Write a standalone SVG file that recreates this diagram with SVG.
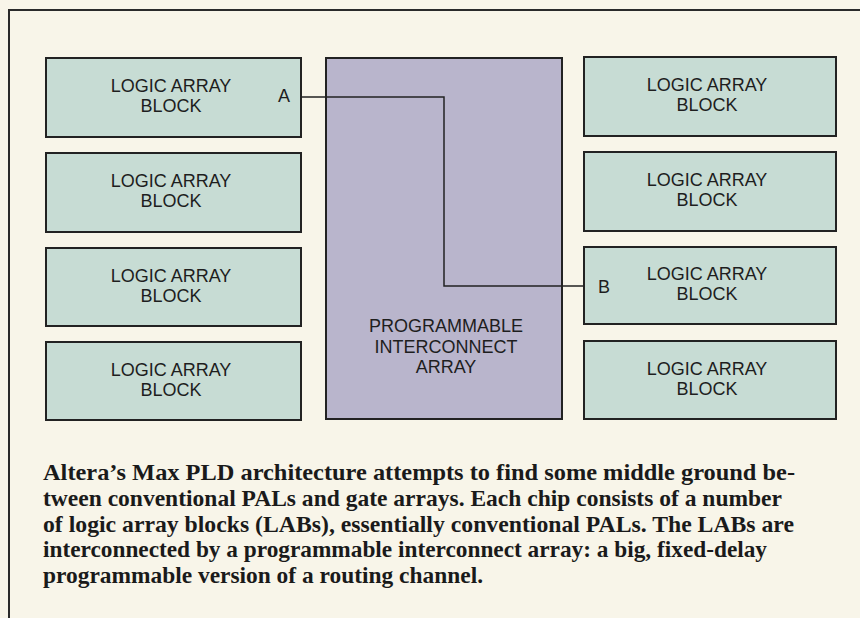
<svg xmlns="http://www.w3.org/2000/svg" width="860" height="618" viewBox="0 0 860 618">
  <style>
    .bg { fill: #f8f5e9; }
    .frame { fill: none; stroke: #2a2a2a; stroke-width: 2; }
    .lab { fill: #c7dcd4; stroke: #222; stroke-width: 2; }
    .pia { fill: #b9b5cc; stroke: #222; stroke-width: 2; }
    .lbl { font-family: "Liberation Sans", Arial, sans-serif; font-size: 18px; fill: #1e1e1e; text-anchor: middle; }
    .pin { font-family: "Liberation Sans", Arial, sans-serif; font-size: 18px; fill: #1e1e1e; }
    .wire { fill: none; stroke: #222; stroke-width: 1.5; }
    .cap { font-family: "Liberation Serif", "Times New Roman", serif; font-weight: bold; font-size: 24px; fill: #1a1a1a; }
  </style>
  <rect class="bg" x="0" y="0" width="860" height="618"/>
  <path class="frame" d="M9,618 V10 H860"/>

  <g id="lab-l1">
    <rect class="lab" x="46" y="58" width="255" height="79"/>
    <text class="lbl" x="171" y="92">LOGIC ARRAY</text>
    <text class="lbl" x="171" y="112">BLOCK</text>
    <text class="pin" x="278" y="102">A</text>
  </g>
  <g id="lab-l2">
    <rect class="lab" x="46" y="153" width="255" height="79"/>
    <text class="lbl" x="171" y="187">LOGIC ARRAY</text>
    <text class="lbl" x="171" y="207">BLOCK</text>
  </g>
  <g id="lab-l3">
    <rect class="lab" x="46" y="248" width="255" height="78"/>
    <text class="lbl" x="171" y="282">LOGIC ARRAY</text>
    <text class="lbl" x="171" y="302">BLOCK</text>
  </g>
  <g id="lab-l4">
    <rect class="lab" x="46" y="342" width="255" height="78"/>
    <text class="lbl" x="171" y="376">LOGIC ARRAY</text>
    <text class="lbl" x="171" y="396">BLOCK</text>
  </g>

  <g id="pia">
    <rect class="pia" x="326" y="58" width="236" height="361"/>
    <text class="lbl" x="446" y="332">PROGRAMMABLE</text>
    <text class="lbl" x="446" y="353">INTERCONNECT</text>
    <text class="lbl" x="446" y="373">ARRAY</text>
  </g>

  <g id="lab-r1">
    <rect class="lab" x="584" y="57" width="252" height="79"/>
    <text class="lbl" x="707" y="91">LOGIC ARRAY</text>
    <text class="lbl" x="707" y="111">BLOCK</text>
  </g>
  <g id="lab-r2">
    <rect class="lab" x="584" y="152" width="252" height="79"/>
    <text class="lbl" x="707" y="186">LOGIC ARRAY</text>
    <text class="lbl" x="707" y="206">BLOCK</text>
  </g>
  <g id="lab-r3">
    <rect class="lab" x="584" y="247" width="252" height="77"/>
    <text class="lbl" x="707" y="280">LOGIC ARRAY</text>
    <text class="lbl" x="707" y="300">BLOCK</text>
    <text class="pin" x="598" y="293">B</text>
  </g>
  <g id="lab-r4">
    <rect class="lab" x="584" y="341" width="252" height="78"/>
    <text class="lbl" x="707" y="375">LOGIC ARRAY</text>
    <text class="lbl" x="707" y="395">BLOCK</text>
  </g>

  <g id="connectors">
    <path class="wire" d="M301,97 H444 V286 H584"/>
  </g>

  <g id="caption">
    <text class="cap" x="43" y="480" textLength="752" lengthAdjust="spacingAndGlyphs">Altera’s Max PLD architecture attempts to find some middle ground be-</text>
    <text class="cap" x="43" y="506" textLength="739" lengthAdjust="spacingAndGlyphs">tween conventional PALs and gate arrays. Each chip consists of a number</text>
    <text class="cap" x="43" y="532" textLength="751" lengthAdjust="spacingAndGlyphs">of logic array blocks (LABs), essentially conventional PALs. The LABs are</text>
    <text class="cap" x="43" y="557" textLength="724" lengthAdjust="spacingAndGlyphs">interconnected by a programmable interconnect array: a big, fixed-delay</text>
    <text class="cap" x="43" y="583" textLength="440" lengthAdjust="spacingAndGlyphs">programmable version of a routing channel.</text>
  </g>
</svg>
